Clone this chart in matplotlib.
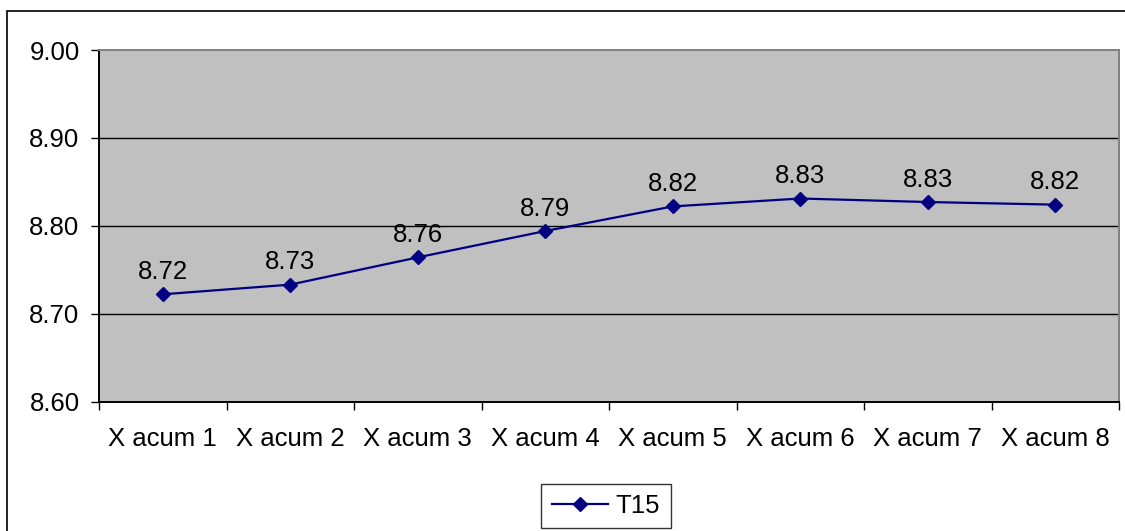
import matplotlib
matplotlib.use('Agg')
import matplotlib.pyplot as plt
from matplotlib.patches import Rectangle

plt.rcParams['font.family'] = ['Liberation Sans', 'DejaVu Sans']

categories = ['X acum 1', 'X acum 2', 'X acum 3', 'X acum 4',
              'X acum 5', 'X acum 6', 'X acum 7', 'X acum 8']
t15 = [8.722, 8.733, 8.764, 8.794, 8.822, 8.831, 8.827, 8.824]
y_ticks = [8.60, 8.70, 8.80, 8.90, 9.00]

fig = plt.figure(figsize=(11.25, 5.31), dpi=100)
ax = fig.add_axes([99 / 1125, 1 - 401.5 / 531, 1020 / 1125, 351.5 / 531])
ax.set_facecolor('#c0c0c0')

# outer chart frame (runs off the right and bottom edges)
fig.patches.append(Rectangle((7 / 1125, -0.05), 1.1, 1.05 - 10.5 / 531,
                             transform=fig.transFigure, fill=False,
                             edgecolor='black', linewidth=1.2))

x = list(range(len(categories)))
ax.plot(x, t15, color='#000080', linewidth=1.6, marker='D', markersize=6.8,
        label='T15', zorder=3)
for xi, v in zip(x, t15):
    ax.annotate(f'{v:.2f}', (xi, v), xytext=(0, 7.5), textcoords='offset points',
                ha='center', va='bottom', fontsize=18.5, color='black')

ax.set_xlim(-0.5, len(categories) - 0.5)
ax.set_ylim(8.60, 9.00)
ax.set_yticks(y_ticks)
ax.set_yticklabels([f'{t:.2f}' for t in y_ticks])
ax.set_xticks([i + 0.5 for i in range(-1, len(categories))], minor=False)
ax.set_xticklabels([])
ax.set_xticks(x, minor=True)
ax.set_xticklabels(categories, minor=True)
ax.tick_params(axis='x', which='major', length=6, width=1, color='black')
ax.tick_params(axis='x', which='minor', length=0, pad=18, labelsize=18.5)
ax.tick_params(axis='y', length=6, width=1, pad=8, labelsize=18.5)

for t in y_ticks[1:-1]:
    ax.axhline(t, color='black', linewidth=1, zorder=1)

ax.spines['left'].set_color('black')
ax.spines['bottom'].set_color('black')
ax.spines['top'].set_color('#808080')
ax.spines['right'].set_color('#808080')
for s in ax.spines.values():
    s.set_linewidth(1.4)

leg = fig.legend(loc='center', bbox_to_anchor=(606 / 1125, 1 - 506 / 531),
                 fontsize=18.5, frameon=True, fancybox=False, handlelength=2.2,
                 borderpad=0.4, handletextpad=0.3, borderaxespad=0)
leg.get_frame().set_edgecolor('black')
leg.get_frame().set_linewidth(1)

fig.savefig('out.png', dpi=100)
